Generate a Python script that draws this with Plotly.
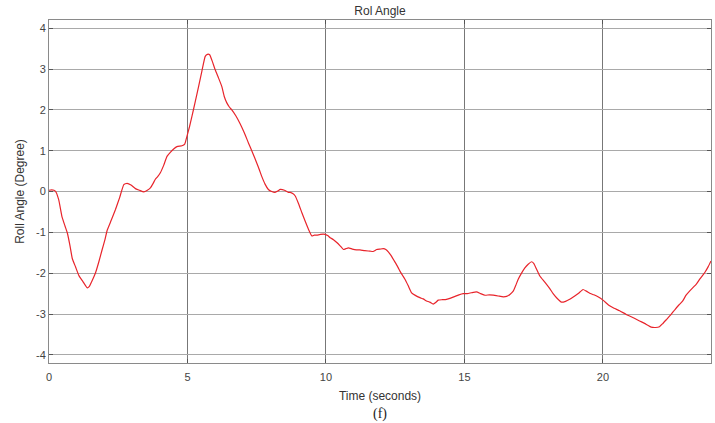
import plotly.graph_objects as go

# Roll angle trace sampled over the run
time_s = [0.00, 0.10, 0.23, 0.35, 0.47, 0.58, 0.66, 0.75, 0.84, 0.96, 1.08, 1.22, 1.38, 1.45,
          1.56, 1.68, 1.80, 1.92, 2.02, 2.10, 2.25, 2.40, 2.55, 2.70, 2.82, 2.96, 3.12, 3.27,
          3.42, 3.55, 3.66, 3.76, 3.84, 3.93, 4.02, 4.14, 4.26, 4.38, 4.50, 4.62, 4.80, 4.90,
          4.98, 5.07, 5.16, 5.28, 5.40, 5.52, 5.64, 5.72, 5.80, 5.90, 6.00, 6.12, 6.24, 6.33,
          6.42, 6.51, 6.60, 6.75, 6.90, 7.05, 7.20, 7.35, 7.50, 7.60, 7.68, 7.80, 7.92, 8.04,
          8.16, 8.26, 8.35, 8.50, 8.64, 8.71, 8.80, 8.89, 9.01, 9.13, 9.25, 9.37, 9.49, 9.58,
          9.67, 9.80, 9.97, 10.06, 10.15, 10.27, 10.39, 10.51, 10.63, 10.72, 10.81, 10.95, 11.10,
          11.23, 11.40, 11.59, 11.70, 11.83, 11.95, 12.07, 12.16, 12.25, 12.34, 12.43, 12.52,
          12.61, 12.67, 12.76, 12.85, 12.97, 13.09, 13.24, 13.39, 13.51, 13.63, 13.75, 13.87,
          13.96, 14.05, 14.20, 14.35, 14.50, 14.65, 14.80, 14.95, 15.10, 15.25, 15.43, 15.58,
          15.74, 15.90, 16.04, 16.22, 16.40, 16.52, 16.64, 16.76, 16.85, 16.94, 17.06, 17.18,
          17.30, 17.42, 17.50, 17.60, 17.72, 17.90, 18.08, 18.20, 18.35, 18.50, 18.65, 18.80,
          18.98, 19.12, 19.28, 19.40, 19.52, 19.67, 19.82, 20.00, 20.24, 20.40, 20.60, 20.84,
          21.00, 21.15, 21.32, 21.50, 21.74, 21.90, 22.04, 22.15, 22.30, 22.46, 22.60, 22.74,
          22.88, 23.00, 23.15, 23.37, 23.50, 23.67, 23.80, 23.90]
roll_deg = [0.03, 0.04, 0.01, -0.20, -0.62, -0.85, -1.01, -1.30, -1.64, -1.85, -2.06, -2.20,
            -2.36, -2.33, -2.18, -1.99, -1.72, -1.42, -1.18, -0.95, -0.70, -0.44, -0.15, 0.17,
            0.20, 0.16, 0.07, 0.03, -0.01, 0.03, 0.09, 0.20, 0.30, 0.37, 0.46, 0.64, 0.86, 0.96,
            1.04, 1.10, 1.12, 1.16, 1.35, 1.58, 1.84, 2.20, 2.57, 2.95, 3.31, 3.36, 3.35, 3.18,
            2.98, 2.78, 2.57, 2.32, 2.17, 2.07, 2.00, 1.85, 1.66, 1.44, 1.19, 0.95, 0.70, 0.52,
            0.37, 0.18, 0.05, 0.00, -0.02, 0.01, 0.05, 0.03, -0.02, -0.02, -0.05, -0.11, -0.30,
            -0.52, -0.73, -0.93, -1.09, -1.07, -1.07, -1.05, -1.05, -1.08, -1.13, -1.18, -1.25,
            -1.33, -1.42, -1.40, -1.38, -1.41, -1.43, -1.43, -1.45, -1.46, -1.47, -1.42, -1.41,
            -1.40, -1.42, -1.48, -1.56, -1.66, -1.76, -1.87, -1.95, -2.05, -2.15, -2.31, -2.48,
            -2.55, -2.60, -2.63, -2.68, -2.71, -2.76, -2.72, -2.66, -2.65, -2.64, -2.61, -2.57,
            -2.53, -2.50, -2.50, -2.48, -2.46, -2.50, -2.54, -2.53, -2.54, -2.56, -2.58, -2.57,
            -2.52, -2.44, -2.30, -2.15, -2.00, -1.87, -1.78, -1.72, -1.76, -1.90, -2.07, -2.22,
            -2.38, -2.50, -2.62, -2.71, -2.69, -2.64, -2.56, -2.49, -2.40, -2.44, -2.49, -2.53,
            -2.58, -2.66, -2.80, -2.86, -2.92, -3.01, -3.06, -3.11, -3.17, -3.23, -3.32, -3.33,
            -3.31, -3.24, -3.13, -3.01, -2.89, -2.78, -2.68, -2.54, -2.42, -2.27, -2.14, -1.99,
            -1.84, -1.70]

x_ticks = [0, 5, 10, 15, 20]
y_ticks = [-4, -3, -2, -1, 0, 1, 2, 3, 4]

fig = go.Figure()
fig.add_trace(go.Scatter(
    x=time_s, y=roll_deg, mode="lines",
    line=dict(color="#e8242b", width=1.2, shape="spline", smoothing=0.4),
    showlegend=False, hoverinfo="skip",
))

tick_font = dict(family="Liberation Sans, Arial, sans-serif", size=11, color="#444444")
label_font = dict(family="Liberation Sans, Arial, sans-serif", size=12, color="#333333")

fig.update_layout(
    width=715, height=423,
    margin=dict(l=49, r=4, t=20, b=60),
    paper_bgcolor="white", plot_bgcolor="white",
    title=dict(text="Rol Angle", x=0.5315, xanchor="center", y=1 - 11 / 423, yanchor="middle",
               font=label_font),
    xaxis=dict(
        range=[0, 23.9], tickvals=x_ticks, ticktext=[str(v) for v in x_ticks],
        showgrid=True, gridcolor="#777777", gridwidth=1, zeroline=False,
        showline=True, linecolor="#8a8a8a", linewidth=1, mirror="allticks",
        ticks="inside", ticklen=4, tickcolor="#555555",
        tickfont=tick_font, ticklabelstandoff=4,
        title=dict(text="Time (seconds)", font=label_font, standoff=9),
    ),
    yaxis=dict(
        range=[-4.2, 4.2], tickvals=y_ticks, ticktext=[str(v) for v in y_ticks],
        showgrid=True, gridcolor="#a9a9a9", gridwidth=1, zeroline=False,
        showline=True, linecolor="#8a8a8a", linewidth=1, mirror="allticks",
        ticks="inside", ticklen=4, tickcolor="#555555",
        tickfont=tick_font,
        title=dict(text="Roll Angle (Degree)", font=label_font, standoff=8),
    ),
    annotations=[dict(
        text="(f)", xref="paper", yref="paper", x=0.5, y=-51 / 343,
        xanchor="center", yanchor="middle", showarrow=False,
        font=dict(family="Liberation Serif, Times New Roman, serif", size=14, color="#222222"),
    )],
)

fig.write_html("out.html")
